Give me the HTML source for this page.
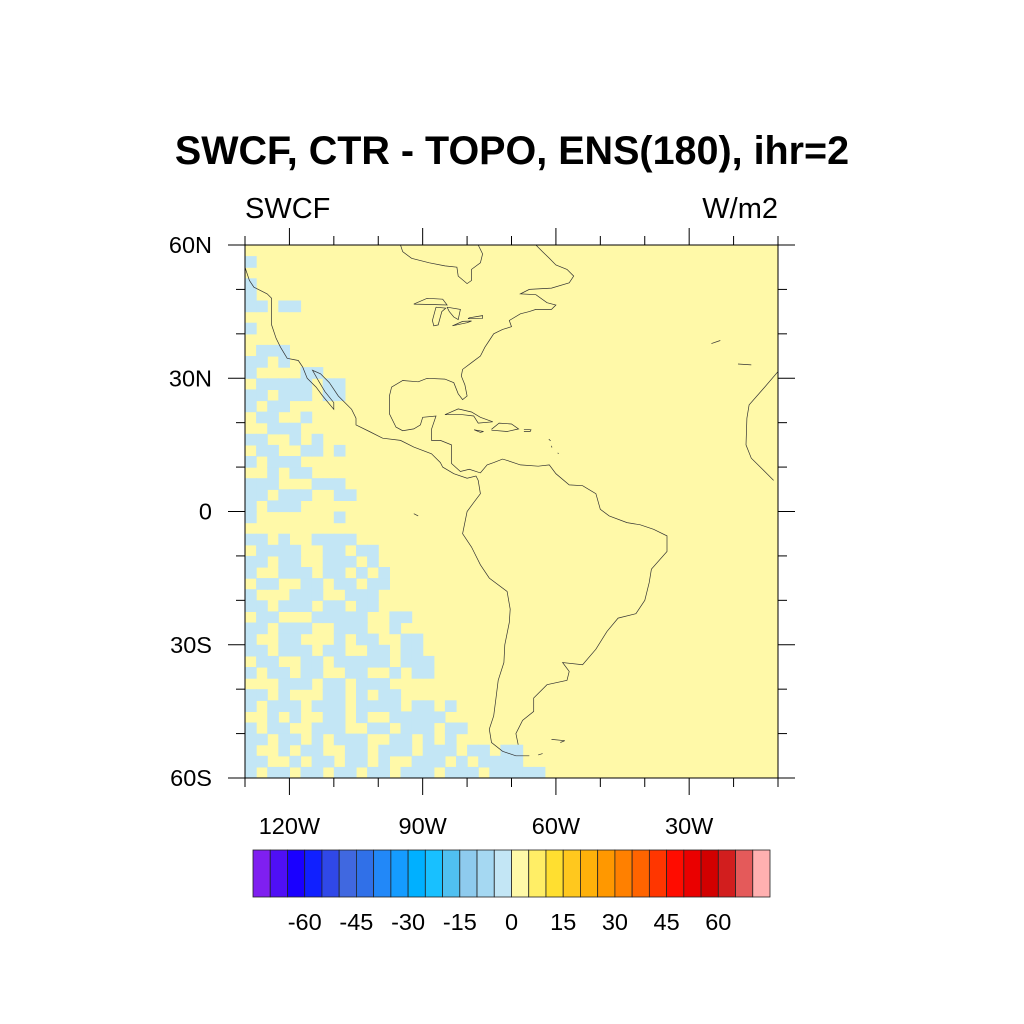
<!DOCTYPE html>
<html><head><meta charset="utf-8"><style>
html,body{margin:0;padding:0;background:#fff;}
svg{display:block;font-family:"Liberation Sans",Arial,sans-serif;}
</style></head><body>
<svg id="chart" width="1024" height="1024" viewBox="0 0 1024 1024" xmlns="http://www.w3.org/2000/svg">
<text x="512" y="164" text-anchor="middle" font-size="39.5" font-weight="bold">SWCF, CTR - TOPO, ENS(180), ihr=2</text>
<text x="245" y="218" font-size="29">SWCF</text>
<text x="778" y="218" font-size="29" text-anchor="end">W/m2</text>
<g id="map"></g>
<g id="axes"></g>
<g id="cbar"></g>
</svg>
<script>
// ---- data ----
const lonMin=-130, lonMax=-10, latMin=-60, latMax=60;
const gridRes=2.5;
// values grid, rows from 60N southward, columns from 130W eastward ('-' = -2 W/m2, '.' = +2 W/m2)
const gridRows=[
"...........................",
"-..........................",
"...........................",
"-..........................",
"-..........................",
"--.--......................",
"...........................",
"-..........................",
"...........................",
".---.......................",
"--.-.......................",
"-....--....................",
".-----.--..................",
"--.---.--..................",
"-.--.......................",
".--..-.....................",
"..---......................",
"--..-.-....................",
".--..--.-..................",
"-.---......................",
"..-.--.....................",
"---...---..................",
"--.---..--.................",
"-.---......................",
"-.......-..................",
"...........................",
"--.-..----.................",
".----..--.--...............",
"--.--..---.-...............",
"-..---.--.-.-..............",
".--..--.--.--..............",
"-...---..---...............",
"--.---.--.--...............",
".--...-----..--............",
"--.---..---..-.............",
"-..--...-.--..--...........",
"--.---.--..--.--...........",
".--..--.-----.---..........",
"-.--.--..--..-.--..........",
"...---.--.---..............",
"--.-...--.-.--.............",
"-.---.---.----.--.-........",
"..-.-..--.-..-----.........",
"-.--..---..--.---.--.......",
"--.--.-.---..--.-.-........",
"-..-.--..--.---.---.--.--..",
"--..-.--.--.-..---.-.----..",
"-.--.--.--.--.---.---.-----"
];
const cbLevels=[-70,-65,-60,-55,-50,-45,-40,-35,-30,-25,-20,-15,-10,-5,0,5,10,15,20,25,30,35,40,45,50,55,60,65,70];
const cbColors=["#7f1ff0","#4f0ff5","#1a00ff","#1020ff","#3048e8","#4068e0","#3070e8","#2288f8","#159cff","#00b0ff","#18c0ff","#50c0f0","#8ecbee","#a5d8f2","#c3e6f5","#fff9a8","#ffee66","#ffdf30","#ffc81e","#ffb10a","#ff9800","#ff8000","#ff6400","#ff3600","#ff0c00","#ea0000","#d20000","#d21e1e","#e45a5a","#ffb0b0"];
const cbLabels=[-60,-45,-30,-15,0,15,30,45,60];
const lonTicks=[-120,-90,-60,-30];
const latTicks=[60,30,0,-30,-60];
const coasts=[
 [[-130,55],[-129,52],[-128,50.5],[-125,49],[-124,48],[-124,46],[-124,42],[-123,39],[-122,37],[-120.5,34.5],[-118,34],[-117,32.5],[-116,30],[-114,28],[-112.5,26],[-110,23],[-110,24.5],[-112,27],[-113.5,29.5],[-114.8,31.8],[-113,31],[-111,29],[-109,26],[-106,23],[-105,21],[-105,19.5],[-102,18],[-99,16.5],[-95,16],[-92,14.5],[-88,13],[-86,11],[-85.5,10],[-83,8.5],[-80,7.5],[-78,8],[-77.5,7],[-77,4],[-78.5,2],[-80,0],[-81,-5],[-79,-8],[-77,-12],[-75,-15],[-71,-18],[-70.3,-22],[-70.5,-25],[-71.5,-30],[-71.7,-34],[-73,-38],[-73.5,-42],[-74,-46],[-75,-49],[-74.5,-52],[-72,-54],[-69,-55],[-66,-55]],
 [[-68.5,-52.5],[-69,-50],[-67.5,-47],[-65,-45],[-65,-42],[-62,-39],[-57.5,-38],[-57,-36],[-58.5,-34],[-54,-34.5],[-51,-31],[-48.5,-27],[-46,-24],[-42,-23],[-40,-20],[-39,-16],[-38.5,-13],[-35,-9],[-35,-5.5],[-38,-4],[-41,-3],[-44,-2.5],[-48,-1],[-50,0.5],[-51,4],[-54,5.8],[-57,6],[-60,8.5],[-61.5,10.5],[-64,10.2],[-68,10.5],[-71,11.5],[-72,11.8],[-74,11],[-75.5,10.5],[-77,8.7],[-79.5,9.5],[-81.5,9],[-83.5,10.8],[-83.5,15],[-86,16],[-88,16],[-88,18.5],[-87,21.5],[-90,21.2],[-90.5,19.5],[-92,18.6],[-94.5,18.2],[-96,19],[-97.5,22],[-97.5,26],[-97,28],[-94.5,29.5],[-91,29.2],[-89,30],[-85,29.8],[-83,29],[-82,26.5],[-81,25.2],[-80,26],[-80.5,28.5],[-81.3,30.5],[-81,32],[-79,33.5],[-77,35],[-76,37],[-75,38.5],[-74,40],[-72,41],[-70,41.6],[-70.5,43],[-68,44.5],[-66,45],[-64.5,45.5],[-61,45.5],[-60,46.5],[-62,47],[-64.5,48.8],[-68,49],[-66,50],[-61,50.3],[-57,51.5],[-56,53],[-57.5,54.5],[-60,55.5],[-61.5,57],[-63,58.5],[-64.5,60]],
 [[-95,60],[-94.5,58.5],[-92.5,57],[-88.5,56],[-85,55.3],[-82.3,55],[-82,53],[-80,51.3],[-79,52],[-79,54.5],[-77,56],[-76.5,58],[-77.5,60]],
 [[-92,46.7],[-89,48],[-85.5,47.8],[-84.5,46.5],[-88,46.6],[-92,46.7]],
 [[-87,46],[-87.8,43],[-87.5,41.8],[-86.5,42],[-85.7,45],[-84.8,45.8],[-87,46]],
 [[-84.5,46],[-81.5,45.5],[-82,43.2],[-83,43.8],[-84,45],[-84.5,46]],
 [[-83.3,41.8],[-80,42.5],[-79,42.9],[-81,42.8],[-83.3,41.8]],
 [[-79.8,43.4],[-76.5,43.5],[-76.5,44.1],[-79.5,43.6],[-79.8,43.4]],
 [[-85,21.8],[-82,23.1],[-79,22.4],[-77,21.2],[-74.2,20.2],[-77.5,19.9],[-78.5,21.5],[-81,21.8],[-85,21.8]],
 [[-74.5,18.5],[-72.8,19.9],[-70,19.7],[-68.4,18.6],[-71,18],[-74.5,18.3]],
 [[-78.4,18.4],[-76.3,18],[-77,17.8],[-78.4,18.4]],
 [[-67.2,18.5],[-65.6,18.4],[-65.8,18],[-67.2,18]],
 [[-10,31.5],[-13,28],[-16.5,24],[-17,21],[-17.2,15],[-16,12],[-13.5,9.5],[-11,7]],
 [[-61,14.8],[-60.9,14.4]],[[-61.6,16.3],[-61.2,15.9]],[[-59.6,13.2],[-59.4,13]],
 [[-92,-0.5],[-91,-1]],
 [[-64,-54.8],[-63,-54.5]],[[-61,-51.3],[-58,-51.6],[-59,-52]],
 [[-19,33.2],[-16,33]],[[-25,37.8],[-23,38.5]]
];
// ---- axis functions ----
const X0=245,X1=778,Y0=245,Y1=778;
const xS=lon=>X0+(lon-lonMin)/(lonMax-lonMin)*(X1-X0);
const yS=lat=>Y0+(latMax-lat)/(latMax-latMin)*(Y1-Y0);
const NS="http://www.w3.org/2000/svg";
function mk(tag,attrs,parent){const e=document.createElementNS(NS,tag);for(const k in attrs)e.setAttribute(k,attrs[k]);parent.appendChild(e);return e;}
const map=document.getElementById('map'),axes=document.getElementById('axes'),cbar=document.getElementById('cbar');
function colorFor(v){let i=0;while(i<cbLevels.length&&v>=cbLevels[i])i++;return cbColors[i];}
const clip=mk('clipPath',{id:'mclip'},map);mk('rect',{x:X0,y:Y0,width:X1-X0,height:Y1-Y0},clip);
const bg=mk('rect',{x:X0,y:Y0,width:X1-X0,height:Y1-Y0,fill:colorFor(2)},map);


const cells=mk('g',{'clip-path':'url(#mclip)'},map);
gridRows.forEach((row,r)=>{
  for(let c=0;c<row.length;c++){
    const v=row[c]==='-'?-2:2;
    if(v>=0)continue;
    const lon=lonMin+c*gridRes, lat=latMax-r*gridRes;
    const x=xS(lon),y=yS(lat),w=xS(lon+gridRes)-x,h=yS(lat-gridRes)-y;
    const e=mk('rect',{x:x.toFixed(1),y:y.toFixed(1),width:(w+0.6).toFixed(1),height:(h+0.6).toFixed(1),fill:colorFor(v)},cells);
    
    
  }
});
const cg=mk('g',{'clip-path':'url(#mclip)',fill:'none',stroke:'#333','stroke-width':'0.7'},map);
coasts.forEach(pts=>{
  const e=mk('polyline',{points:pts.map(p=>xS(p[0]).toFixed(1)+','+yS(p[1]).toFixed(1)).join(' ')},cg);
  
  
});
const fr=mk('rect',{x:X0,y:Y0,width:X1-X0,height:Y1-Y0,fill:'none',stroke:'#000','stroke-width':1},axes);


for(let lon=lonMin;lon<=lonMax;lon+=10){
  const major=lonTicks.includes(lon),L=major?17:9,x=xS(lon);
  mk('line',{x1:x,y1:Y0,x2:x,y2:Y0-L,stroke:'#000','stroke-width':1},axes);
  mk('line',{x1:x,y1:Y1,x2:x,y2:Y1+L,stroke:'#000','stroke-width':1},axes);
}
for(let lat=latMin;lat<=latMax;lat+=10){
  const major=latTicks.includes(lat),L=major?17:9,y=yS(lat);
  mk('line',{x1:X0,y1:y,x2:X0-L,y2:y,stroke:'#000','stroke-width':1},axes);
  mk('line',{x1:X1,y1:y,x2:X1+L,y2:y,stroke:'#000','stroke-width':1},axes);
}
lonTicks.forEach(lon=>{
  const t=mk('text',{x:xS(lon),y:834,'text-anchor':'middle','font-size':23.5},axes);
  t.textContent=Math.abs(lon)+'W';
  
  
});
latTicks.forEach(lat=>{
  const t=mk('text',{x:212,y:yS(lat)+8,'text-anchor':'end','font-size':23.5},axes);
  t.textContent=lat===0?'0':Math.abs(lat)+(lat>0?'N':'S');
  
  
});
const CB0=253,CB1=770,CBY=850,CBH=47,bw=(CB1-CB0)/cbColors.length;
cbColors.forEach((col,i)=>{
  const e=mk('rect',{x:(CB0+i*bw).toFixed(2),y:CBY,width:bw.toFixed(2),height:CBH,fill:col,stroke:'#222','stroke-width':0.8},cbar);
  
  
});
cbLabels.forEach(v=>{
  const i=cbLevels.indexOf(v)+1;
  const t=mk('text',{x:(CB0+i*bw).toFixed(1),y:930,'text-anchor':'middle','font-size':23.5},cbar);
  t.textContent=String(v);
  
  
});
</script>
</body></html>
